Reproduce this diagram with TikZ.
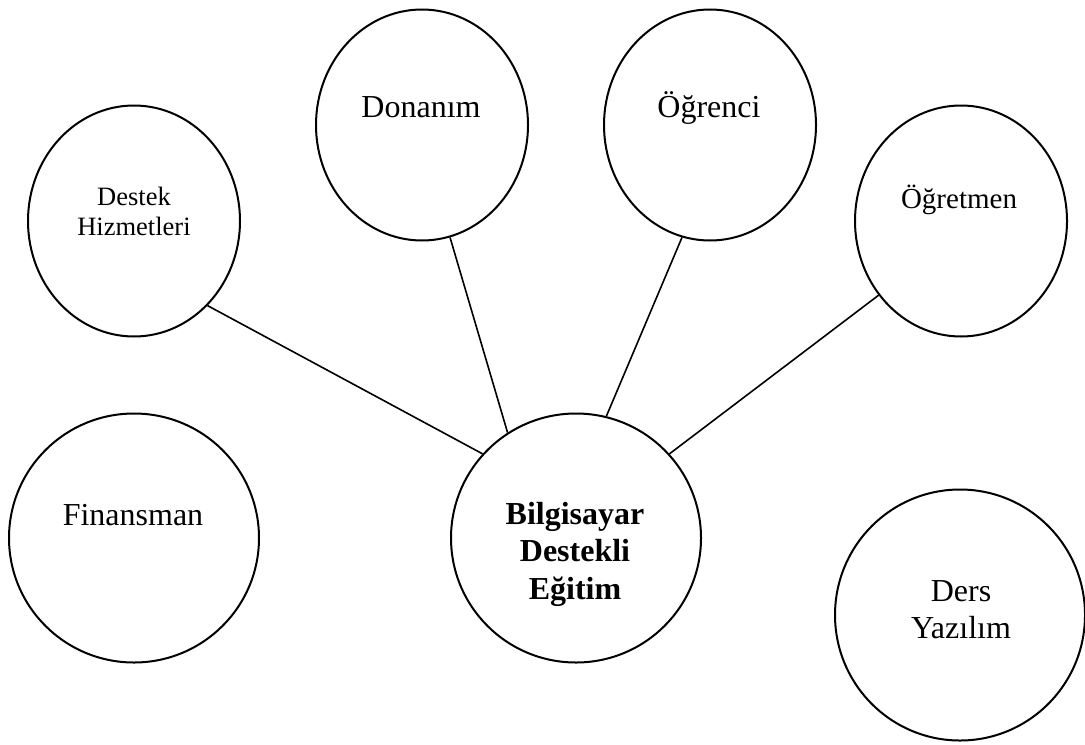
\documentclass[tikz,border=0pt]{standalone}
\usepackage{fontspec}
\setmainfont{Liberation Serif}
\usetikzlibrary{shapes.geometric}
\tikzset{
  bubble/.style={draw, line width=1pt, ellipse, inner sep=0pt,
    minimum width=106pt, minimum height=115.5pt},
  big bubble/.style={bubble, minimum width=125pt, minimum height=124.5pt},
  word/.style={font=\fontsize{16}{18.5}\selectfont, align=center, anchor=base, inner sep=0pt},
  link/.style={line width=0.8pt},
}
\begin{document}
\begin{tikzpicture}[x=0.5pt,y=-0.5pt]
  \useasboundingbox (0,0) rectangle (1085,744);
  % outer topics
  \node[bubble] (destek) at (134,221) {};
  \node[bubble] (donanim) at (422,125) {};
  \node[bubble] (ogrenci) at (710,125) {};
  \node[bubble] (ogretmen) at (961,221) {};
  \node[big bubble] (finansman) at (134,538) {};
  \node[big bubble, minimum height=125.5pt] (ders) at (960,615) {};
  % centre
  \node[big bubble] (bde) at (576,538) {};

  \node[word, font=\fontsize{13.25}{15}\selectfont] (destek-t) at (134,235) {Destek\\Hizmetleri};
  \node[word] (donanim-t) at (421,117) {Donanım};
  \node[word] (ogrenci-t) at (709,117) {Öğrenci};
  \node[word, font=\fontsize{14.5}{17}\selectfont] (ogretmen-t) at (959,208) {Öğretmen};
  \node[word] (finansman-t) at (133,525) {Finansman};
  \node[word] (ders-t) at (961,638) {Ders\\Yazılım};
  \node[word, font=\fontsize{16}{18.75}\selectfont\bfseries] (bde-t) at (575,599) {Bilgisayar\\Destekli\\Eğitim};

  \draw[link] (destek.-49) -- (bde.138);
  \draw[link] (donanim.-76) -- (bde.123);
  \draw[link] (ogrenci.-104) -- (bde.76);
  \draw[link] (ogretmen.-138) -- (bde.42);
\end{tikzpicture}
\end{document}
